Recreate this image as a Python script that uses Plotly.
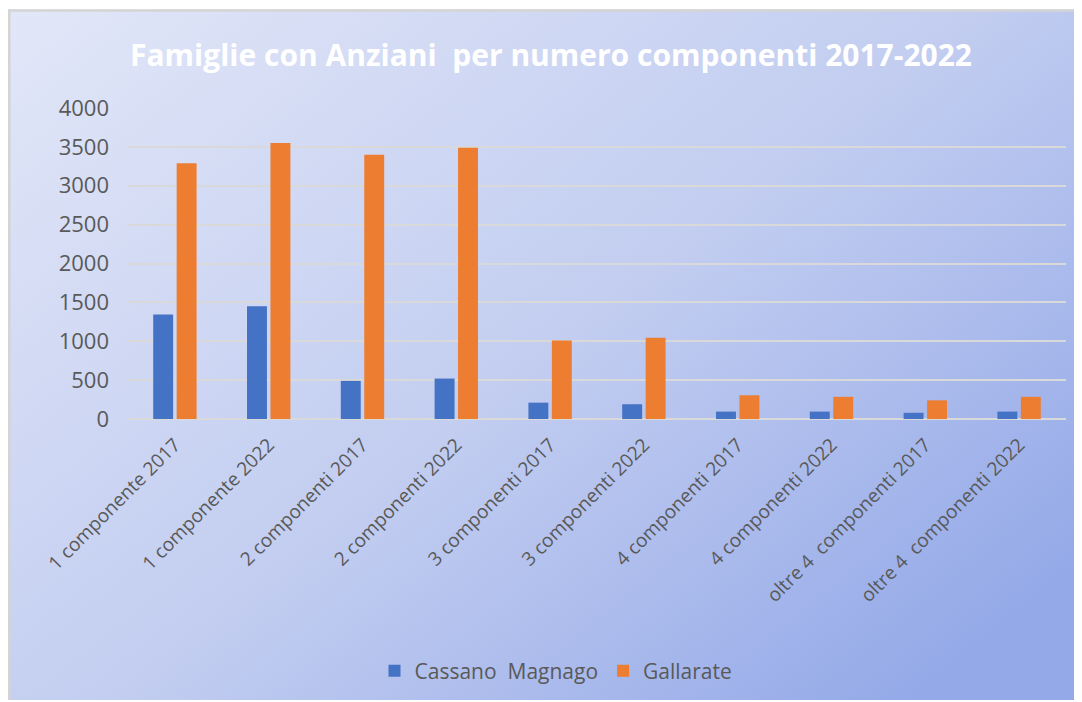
import base64
import plotly.graph_objects as go

# dati
categorie = [
    "1 componente 2017", "1 componente 2022",
    "2 componenti 2017", "2 componenti 2022",
    "3 componenti 2017", "3 componenti 2022",
    "4 componenti 2017", "4 componenti 2022",
    "oltre 4\u00a0 componenti 2017", "oltre 4\u00a0 componenti 2022",
]
cassano = [1345, 1450, 490, 520, 210, 190, 95, 95, 80, 95]
gallarate = [3290, 3550, 3400, 3490, 1010, 1045, 305, 285, 240, 285]

# la pagina ha 8px di margine: la figura riempie il resto della finestra
W, H = 1074, 694
ML, MR, MT, MB = 120, 16, 100, 282

# sfondo sfumato come nel grafico Excel
svg = f"""<svg xmlns='http://www.w3.org/2000/svg' width='{W}' height='{H}'>
<defs><linearGradient id='g' x1='0' y1='0' x2='1' y2='0.8'>
<stop offset='0' stop-color='#e2e7f8'/>
<stop offset='0.55' stop-color='#c2cdf0'/>
<stop offset='1' stop-color='#94a9e8'/>
</linearGradient></defs>
<rect x='0' y='0' width='{W}' height='{H}' fill='url(#g)'/>
<line x1='1' y1='0' x2='1' y2='{H}' stroke='#d4d4d4' stroke-width='3'/>
<line x1='0' y1='1' x2='{W}' y2='1' stroke='#d4d4d4' stroke-width='3'/>
</svg>"""
src = "data:image/svg+xml;base64," + base64.b64encode(svg.encode()).decode()

pw = W - ML - MR
ph = H - MT - MB
x0, y0 = 0, 1

fig = go.Figure()
fig.add_trace(go.Bar(x=categorie, y=cassano, name="Cassano\u00a0 Magnago",
                     marker=dict(color="#4472C4", line=dict(width=0))))
fig.add_trace(go.Bar(x=categorie, y=gallarate, name="Gallarate",
                     marker=dict(color="#ED7D31", line=dict(width=0))))

fig.update_layout(
    width=W, height=H,
    margin=dict(l=ML, r=MR, t=MT, b=MB, pad=0),
    paper_bgcolor="white",
    plot_bgcolor="rgba(0,0,0,0)",
    barmode="group",
    bargap=0.5,
    bargroupgap=0.15,
    font=dict(family="Open Sans", color="#595959", size=20),
    title=dict(
        text="<b>Famiglie con Anziani\u00a0 per numero componenti 2017-2022</b>",
        font=dict(family="Open Sans", size=30, color="white"),
        x=(543 - ML) / pw, xanchor="center", xref="paper",
        y=1 - 47 / H, yanchor="middle",
    ),
    xaxis=dict(tickangle=-45, showgrid=False, showline=False, ticks="",
               ticklabelstandoff=10,
               tickfont=dict(size=19, color="#595959")),
    yaxis=dict(range=[0, 4000], dtick=500, showgrid=True, gridcolor="#d9d9d9",
               gridwidth=1.5, zeroline=True, zerolinecolor="#d9d9d9",
               zerolinewidth=1.5, ticks="", ticklen=0, ticklabelstandoff=18,
               tickfont=dict(size=22, color="#595959")),
    legend=dict(orientation="h", x=(548 - ML) / pw, xanchor="center",
                y=(H - MB - 663) / ph, yanchor="middle", itemwidth=30,
                bgcolor="rgba(0,0,0,0)", font=dict(size=21, color="#595959")),
    images=[dict(
        source=src, xref="paper", yref="paper",
        x=(x0 - ML) / pw, y=(H - MB - y0) / ph,
        sizex=(W - x0) / pw, sizey=(H - y0) / ph,
        xanchor="left", yanchor="top", sizing="stretch", layer="below",
    )],
)

fig.write_html("out.html")
